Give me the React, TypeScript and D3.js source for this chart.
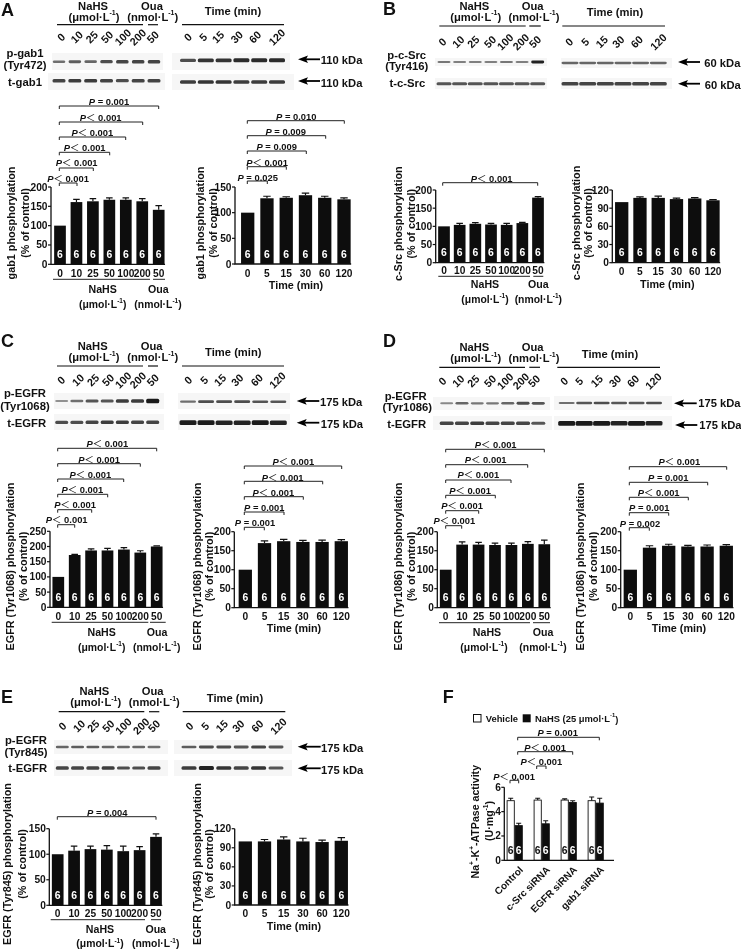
import React from "react";
import * as d3 from "d3";

// ---------- DATA ----------
const concLabels = ["0", "10", "25", "50", "100", "200", "50"];
const timeLabels = ["0", "5", "15", "30", "60", "120"];
const siLabels = ["Control", "c-Src siRNA", "EGFR siRNA", "gab1 siRNA"];

const aConc = [100, 161, 163, 167, 167, 163, 141];
const aConcErr = [0, 7, 7, 5, 5, 7, 11];
const aTime = [100, 128, 129, 134, 129, 126];
const aTimeErr = [0, 4, 2, 4, 3, 3];
const bConc = [100, 104, 107, 105, 104, 109, 179];
const bConcErr = [0, 4, 3, 3, 4, 2, 3];
const bTime = [100, 107, 107, 105, 106, 103];
const bTimeErr = [0, 1.5, 3, 1.5, 1.5, 1];
const cConc = [100, 172, 187, 187, 190, 180, 200];
const cConcErr = [0, 2, 5, 7, 6, 6, 2];
const cTime = [100, 170, 175, 173, 173, 175];
const cTimeErr = [0, 6, 5, 4, 5, 4];
const dConc = [100, 166, 166, 165, 165, 168, 167];
const dConcErr = [0, 7, 6, 5, 5, 6, 11];
const dTime = [100, 158, 163, 161, 161, 163];
const dTimeErr = [0, 5, 4, 3, 4, 3];
const eConc = [100, 107, 110, 109, 106, 108, 134];
const eConcErr = [0, 9, 6, 8, 10, 7, 6];
const eTime = [100, 100, 103, 100, 99, 101];
const eTimeErr = [0, 3, 4, 5, 3, 5];
const fVehicle = [4.9, 4.95, 4.95, 4.9];
const fVehicleErr = [0.2, 0.15, 0.1, 0.3];
const fNahs = [2.85, 3.0, 4.75, 4.7];
const fNahsErr = [0.2, 0.25, 0.15, 0.4];

const ticks200 = [0, 50, 100, 150, 200];
const ticks150 = [0, 50, 100, 150];
const ticks250 = [0, 50, 100, 150, 200, 250];
const ticks120 = [0, 30, 60, 90, 120];
const ticksF = [0, 2, 4, 6];

const aConcP = ["P = 0.001", "P< 0.001", "P< 0.001", "P< 0.001", "P< 0.001", "P< 0.001"];
const aTimeP = ["P = 0.010", "P = 0.009", "P = 0.009", "P< 0.001", "P = 0.025"];
const bConcP = ["P< 0.001"];
const cConcP = ["P< 0.001", "P< 0.001", "P< 0.001", "P< 0.001", "P< 0.001", "P< 0.001"];
const cTimeP = ["P< 0.001", "P< 0.001", "P< 0.001", "P = 0.001", "P = 0.001"];
const dConcP = ["P< 0.001", "P< 0.001", "P< 0.001", "P< 0.001", "P< 0.001", "P< 0.001"];
const dTimeP = ["P< 0.001", "P = 0.001", "P< 0.001", "P = 0.001", "P = 0.002"];
const eConcP = ["P = 0.004"];
const fP = ["P = 0.001", "P< 0.001", "P< 0.001", "P< 0.001"];

// band darkness estimates (0-1)
const aPL = [0.45, 0.55, 0.5, 0.65, 0.7, 0.7, 0.7];
const aTL = [0.7, 0.75, 0.75, 0.7, 0.65, 0.7, 0.7];
const aPR = [0.65, 0.8, 0.8, 0.85, 0.85, 0.85];
const aTR = [0.75, 0.8, 0.8, 0.75, 0.75, 0.75];
const bPL = [0.4, 0.35, 0.35, 0.35, 0.4, 0.35, 0.9];
const bTL = [0.6, 0.6, 0.6, 0.6, 0.6, 0.6, 0.6];
const bPR = [0.5, 0.5, 0.5, 0.5, 0.5, 0.5];
const bTR = [0.7, 0.7, 0.7, 0.7, 0.7, 0.7];
const cPL = [0.25, 0.45, 0.6, 0.6, 0.75, 0.75, 0.95];
const cTL = [0.65, 0.65, 0.7, 0.75, 0.75, 0.7, 0.7];
const cPR = [0.45, 0.65, 0.65, 0.65, 0.6, 0.6];
const cTR = [0.95, 0.95, 0.9, 0.9, 0.95, 0.9];
const dPL = [0.3, 0.5, 0.4, 0.4, 0.5, 0.65, 0.6];
const dTL = [0.7, 0.7, 0.75, 0.7, 0.7, 0.7, 0.6];
const dPR = [0.45, 0.6, 0.65, 0.6, 0.6, 0.65];
const dTR = [0.95, 0.95, 0.95, 0.9, 0.95, 0.9];
const ePL = [0.5, 0.55, 0.55, 0.5, 0.5, 0.5, 0.45];
const eTL = [0.7, 0.7, 0.7, 0.75, 0.65, 0.65, 0.7];
const ePR = [0.55, 0.65, 0.65, 0.6, 0.7, 0.6];
const eTR = [0.75, 0.9, 0.8, 0.7, 0.8, 0.6];

// ---------- HELPERS ----------
const FONT = "'Liberation Sans', Arial, sans-serif";
const INK = "#111";
const ids = (n: number) => d3.range(n).map(String);

const Txt = ({ x, y, children, size = 10, anchor = "middle", rotate, weight = "bold" }: any) => (
  <text
    x={x}
    y={y}
    fontSize={size}
    fontWeight={weight}
    textAnchor={anchor}
    dominantBaseline="central"
    fill={INK}
    transform={rotate != null ? `rotate(${rotate} ${x} ${y})` : undefined}
  >
    {children}
  </text>
);

const Sup = ({ t, size, after }: any) => (
  <>
    <tspan fontSize={size * 0.62} dy={-size * 0.36}>{t}</tspan>
    <tspan dy={size * 0.36}>{after}</tspan>
  </>
);

const Unit = ({ x, y, kind, size = 10.4 }: any) => (
  <Txt x={x} y={y} size={size}>
    {kind === "u" ? "(μmol·L" : "(nmol·L"}
    <Sup t="-1" size={size} after=")" />
  </Txt>
);

// significance: rows of [y, x0, x1, textX, textY]
const Sig = ({ labels, rows }: { labels: string[]; rows: number[][] }) => (
  <g>
    {rows.map((r, i) => {
      const [y, x0, x1, tx, ty] = r;
      const lab = labels[i];
      const less = lab.startsWith("P<");
      return (
        <g key={i}>
          <path d={`M${x0},${y + 3}V${y}H${x1}V${y + 3}`} fill="none" stroke="#222" strokeWidth={1} />
          <text x={tx} y={ty} fontSize={9.4} fontWeight="bold" textAnchor="middle" dominantBaseline="central" fill={INK}>
            <tspan fontStyle="italic">P</tspan>
            {less ? (
              <>
                <tspan fontFamily="'Noto Sans CJK SC'" fontWeight="normal">＜</tspan>
                <tspan> {lab.slice(3)}</tspan>
              </>
            ) : (
              <tspan>{lab.slice(1)}</tspan>
            )}
          </text>
        </g>
      );
    })}
  </g>
);

const BarChart = ({ ax, y0, yTop, max, ticks, c0, c1, w, vals, errs, tickY, right }: any) => {
  const y = d3.scaleLinear().domain([0, max]).range([y0, yTop]);
  const x = d3.scalePoint<string>().domain(ids(vals.length)).range([c0, c1]);
  const labels = vals.length === 7 ? concLabels : timeLabels;
  return (
    <g>
      {vals.map((v: number, i: number) => {
        const cx = x(String(i))!;
        return (
          <g key={i}>
            <rect x={cx - w / 2} y={y(v)} width={w} height={y0 - y(v)} fill="#0d0d0d" />
            {errs[i] > 0 && (
              <path
                d={`M${cx},${y(v)}V${y(v + errs[i])}M${cx - w * 0.28},${y(v + errs[i])}H${cx + w * 0.28}`}
                stroke="#111"
                strokeWidth={1.2}
                fill="none"
              />
            )}
            <text x={cx} y={y0 - 10} fontSize={10.4} fontWeight="bold" fill="#fff" textAnchor="middle" dominantBaseline="central">6</text>
            <Txt x={cx} y={tickY} size={10.2}>{labels[i]}</Txt>
          </g>
        );
      })}
      <path d={`M${ax},${yTop}V${y0}H${right ?? c1 + w / 2 + 0.5}`} fill="none" stroke="#111" strokeWidth={1.3} />
      {ticks.map((t: number) => (
        <g key={t}>
          <line x1={ax - 3} x2={ax} y1={y(t)} y2={y(t)} stroke="#111" strokeWidth={1.2} />
          <Txt x={ax - 3.5} y={y(t)} size={10.2} anchor="end">{t}</Txt>
        </g>
      ))}
    </g>
  );
};

const YTitle = ({ x1, x2, cy, title, size = 10.8 }: any) => (
  <g>
    <Txt x={x1} y={cy} size={size} rotate={-90}>{title}</Txt>
    <Txt x={x2} y={cy} size={size} rotate={-90}>(% of control)</Txt>
  </g>
);

const Blot = ({ bg, xs, dark, y, w, thick = 3.4, blur = "b" }: any) => {
  const x = d3.scalePoint<string>().domain(ids(dark.length)).range(xs);
  return (
    <g>
      <rect x={bg[0]} y={bg[1]} width={bg[2] - bg[0]} height={bg[3] - bg[1]} fill="#f6f6f6" />
      <g filter={`url(#${blur})`}>
        {dark.map((d: number, i: number) => {
          const h = 1 + thick * d;
          return (
            <rect
              key={i}
              x={x(String(i))! - w / 2}
              y={y - h / 2}
              width={w}
              height={h}
              rx={1.5}
              fill={d3.interpolateRgb("#bbbbbb", "#111111")(d)}
            />
          );
        })}
      </g>
    </g>
  );
};

const Arrow = ({ x1, x2, y, label, tx, ty }: any) => (
  <g>
    <path d={`M${x1},${y}H${x2 + 8}`} stroke="#000" strokeWidth={1.8} />
    <path d={`M${x2},${y}L${x2 + 10},${y - 3.8}L${x2 + 8},${y}L${x2 + 10},${y + 3.8}Z`} fill="#000" />
    <Txt x={tx} y={ty} size={11.2} anchor="start">{label}</Txt>
  </g>
);

const Rotated = ({ labels, xs, y }: any) => (
  <g>
    {labels.map((l: string, i: number) => (
      <Txt key={i} x={xs[i]} y={y} size={10.8} rotate={-45}>{l}</Txt>
    ))}
  </g>
);

const Heading = ({ n, u, o, ty, t, t2, l }: any) => (
  <g>
    <Txt x={n[0]} y={ty[0]} size={11.2}>NaHS</Txt>
    <Unit x={n[1]} y={ty[1]} kind="u" size={11.2} />
    <Txt x={o[0]} y={ty[0]} size={11.2}>Oua</Txt>
    <Unit x={o[1]} y={ty[1]} kind="n" size={11.2} />
    <Txt x={t} y={t2} size={11.2}>Time (min)</Txt>
    {[[u[0], u[1]], [u[2], u[3]], [u[4], u[5]]].map((p, i) => (
      <line key={i} x1={p[0]} x2={p[1]} y1={l} y2={l} stroke="#111" strokeWidth={1.2} />
    ))}
  </g>
);

const Foot = ({ l, n, o, y }: any) => (
  <g>
    <line x1={l[0]} x2={l[1]} y1={y[0]} y2={y[0]} stroke="#222" strokeWidth={1} />
    <line x1={l[2]} x2={l[3]} y1={y[0]} y2={y[0]} stroke="#222" strokeWidth={1} />
    <Txt x={n[0]} y={y[1]} size={10.6}>NaHS</Txt>
    <Unit x={n[1]} y={y[2]} kind="u" />
    <Txt x={o[0]} y={y[1]} size={10.6}>Oua</Txt>
    <Unit x={o[1]} y={y[2]} kind="n" />
  </g>
);

const FChart = () => {
  const ax = 504.3, y0 = 860.3, yTop = 787.3, w = 8;
  const y = d3.scaleLinear().domain([0, 6]).range([y0, yTop]);
  const x = d3.scalePoint<string>().domain(siLabels).range([514.7, 595.7]);
  return (
    <g>
      {siLabels.map((s, i) => {
        const c = x(s)!;
        const bar = (v: number, e: number, left: number, fill: string, num: string) => (
          <g>
            <path
              d={`M${left + w / 2},${y(v)}V${y(v + e)}M${left + 1.5},${y(v + e)}H${left + w - 1.5}`}
              stroke="#111"
              strokeWidth={1.1}
              fill="none"
            />
            <rect x={left + 0.4} y={y(v)} width={w - 0.8} height={y0 - y(v)} fill={fill} stroke="#111" strokeWidth={0.9} />
            <text x={left + w / 2} y={850.3} fontSize={10.4} fontWeight="bold" fill={num} textAnchor="middle" dominantBaseline="central">6</text>
          </g>
        );
        return (
          <g key={s}>
            {bar(fVehicle[i], fVehicleErr[i], c - w, "#fff", "#111")}
            {bar(fNahs[i], fNahsErr[i], c, "#0d0d0d", "#fff")}
            <Txt x={c + 6.5} y={868} size={10} anchor="end" rotate={-45}>{s}</Txt>
          </g>
        );
      })}
      <path d={`M${ax},${yTop}V${y0}H614`} fill="none" stroke="#111" strokeWidth={1.3} />
      {ticksF.map((t) => (
        <g key={t}>
          <line x1={ax - 3} x2={ax} y1={y(t)} y2={y(t)} stroke="#111" strokeWidth={1.2} />
          <Txt x={ax - 3.5} y={y(t)} size={10.2} anchor="end">{t}</Txt>
        </g>
      ))}
      <rect x={473.5} y={714.5} width={7.5} height={7.5} fill="#fff" stroke="#111" strokeWidth={1} />
      <Txt x={485.7} y={718.7} size={9.4} anchor="start">Vehicle</Txt>
      <rect x={522.7} y={714.3} width={8} height={8} fill="#0d0d0d" />
      <Txt x={535} y={718.7} size={9.4} anchor="start">
        NaHS (25 μmol·L<Sup t="-1" size={9.4} after=")" />
      </Txt>
      <Txt x={475} y={821.7} size={10.6} rotate={-90}>
        Na<Sup t="+" size={10.6} after="-K" /><Sup t="+" size={10.6} after="-ATPase activity" />
      </Txt>
      <Txt x={489} y={821} size={10.6} rotate={-90}>
        (U·mg<Sup t="-1" size={10.6} after=")" />
      </Txt>
    </g>
  );
};

const PanelLabel = ({ x, y, t }: any) => <Txt x={x} y={y} size={18} anchor="start">{t}</Txt>;

export default function App() {
  return (
    <svg
      width={741}
      height={949}
      viewBox="0 0 741 949"
      style={{ position: "absolute", left: 0, top: 0, background: "#fff" }}
      fontFamily={FONT}
    >
      <defs>
        <filter id="b" x="-20%" y="-150%" width="140%" height="400%" colorInterpolationFilters="sRGB">
          <feGaussianBlur stdDeviation="0.7 0.55" />
        </filter>
        <filter id="soft" filterUnits="userSpaceOnUse" x={0} y={0} width={741} height={949} colorInterpolationFilters="sRGB">
          <feGaussianBlur stdDeviation="0.4" />
        </filter>
      </defs>
      <g filter="url(#soft)">
        <rect width={741} height={949} fill="#fff" />

        {/* ---- A ---- */}
        <PanelLabel x={1} y={10} t="A" />
        <Heading n={[93, 94]} o={[152, 152.7]} ty={[5.5, 16.5]} t={233} t2={11} u={[57, 143, 148, 158, 182, 284]} l={24.7} />
        <Rotated labels={concLabels} xs={[61, 76.7, 91.7, 107, 122.7, 137.7, 152.7]} y={37} />
        <Rotated labels={timeLabels} xs={[187.7, 203, 218, 236.7, 255, 276.7]} y={37} />
        <Txt x={25} y={53} size={11.3}>p-gab1</Txt>
        <Txt x={25} y={65} size={11.3}>(Tyr472)</Txt>
        <Txt x={25} y={81.7} size={11.3}>t-gab1</Txt>
        <Blot bg={[52, 53, 163, 70]} xs={[59, 154]} dark={aPL} y={61.7} w={12.5} />
        <Blot bg={[172, 53, 290, 70]} xs={[188, 277]} dark={aPR} y={60.3} w={16} />
        <Blot bg={[48, 73, 165, 90]} xs={[59, 154]} dark={aTL} y={80.7} w={13} />
        <Blot bg={[172, 74, 294, 90]} xs={[188, 277]} dark={aTR} y={82} w={16} />
        <Arrow x1={320} x2={298} y={59.3} label="110 kDa" tx={320.7} ty={59.5} />
        <Arrow x1={320} x2={298} y={81} label="110 kDa" tx={320.7} ty={82.5} />
        <Sig labels={aConcP} rows={[
          [106, 59.3, 158.7, 109, 101],
          [122, 59.3, 142.7, 100.7, 116.7],
          [137, 59.3, 125.7, 92.3, 131.7],
          [152.3, 59.3, 109.7, 84.7, 147],
          [168, 59.3, 93.3, 76.7, 162.3],
          [183, 59.3, 77, 68, 177.7],
        ]} />
        <Sig labels={aTimeP} rows={[
          [120.7, 247.3, 344.3, 296.3, 115.7],
          [135.7, 247.3, 325.7, 285.7, 130.7],
          [151, 247.3, 306.3, 276.7, 146],
          [166.7, 247.3, 286.3, 267, 161.7],
          [181, 247.3, 267.3, 257.7, 176.7],
        ]} />
        <BarChart ax={51} y0={264.3} yTop={187} max={200} ticks={ticks200} c0={60} c1={158.7} w={11.7} vals={aConc} errs={aConcErr} tickY={273} />
        <BarChart ax={235} y0={264} yTop={187} max={150} ticks={ticks150} c0={247.7} c1={344} w={13.3} vals={aTime} errs={aTimeErr} tickY={273} />
        <YTitle x1={11.3} x2={25} cy={223} title="gab1 phosphorylation" />
        <YTitle x1={200} x2={213} cy={223} title="gab1 phosphorylation" />
        <Foot l={[53, 150, 153, 165]} n={[102.7, 102.7]} o={[158.3, 158]} y={[279.3, 288.7, 304]} />
        <Txt x={296} y={285} size={10.8}>Time (min)</Txt>

        {/* ---- B ---- */}
        <PanelLabel x={383} y={9} t="B" />
        <Heading n={[474.3, 475.7]} o={[532.7, 534]} ty={[5.5, 16.5]} t={615} t2={12.3} u={[439.3, 525.7, 529.3, 540.7, 562.3, 665]} l={26} />
        <Rotated labels={concLabels} xs={[442.3, 458.3, 473.3, 490, 505, 520.7, 535]} y={41.7} />
        <Rotated labels={timeLabels} xs={[569, 585, 601.7, 618.3, 636.7, 658.3]} y={41.7} />
        <Txt x={406.7} y={55} size={11.3}>p-c-Src</Txt>
        <Txt x={406.7} y={66} size={11.3}>(Tyr416)</Txt>
        <Txt x={407.3} y={83.3} size={11.3}>t-c-Src</Txt>
        <Blot bg={[435, 58, 547, 66]} xs={[444, 537.7]} dark={bPL} y={62} w={13} thick={2.2} />
        <Blot bg={[561, 58, 672, 68]} xs={[570, 658.3]} dark={bPR} y={63} w={17} thick={2.6} />
        <Blot bg={[435, 78, 547, 89]} xs={[444, 537.7]} dark={bTL} y={83.7} w={15} />
        <Blot bg={[561, 78, 672, 89]} xs={[570, 658.3]} dark={bTR} y={83.7} w={17} />
        <Arrow x1={700} x2={678} y={62} label="60 kDa" tx={704.3} ty={62.5} />
        <Arrow x1={700} x2={678} y={83.7} label="60 kDa" tx={704.7} ty={85} />
        <Sig labels={bConcP} rows={[[182.7, 442.7, 537.7, 491.7, 178.3]]} />
        <BarChart ax={435.7} y0={262.7} yTop={190} max={200} ticks={ticks200} c0={444} c1={538} w={11.7} vals={bConc} errs={bConcErr} tickY={270.7} />
        <BarChart ax={612.3} y0={262.7} yTop={190} max={120} ticks={ticks120} c0={621.7} c1={713} w={13.3} vals={bTime} errs={bTimeErr} tickY={271} />
        <YTitle x1={397.7} x2={410.7} cy={223.7} title="c-Src phosphorylation" />
        <YTitle x1={575.7} x2={588.3} cy={223} title="c-Src phosphorylation" />
        <Foot l={[438.3, 530, 533.3, 543.3]} n={[485, 485]} o={[538.3, 538.3]} y={[276.3, 284.3, 299]} />
        <Txt x={667.3} y={284.3} size={10.8}>Time (min)</Txt>

        {/* ---- C ---- */}
        <PanelLabel x={1} y={340.7} t="C" />
        <Heading n={[92.7, 94]} o={[151.7, 152.7]} ty={[346, 356.7]} t={233.3} t2={352.3} u={[57, 143, 148, 158, 182, 284]} l={366} />
        <Rotated labels={concLabels} xs={[61, 78, 93, 108, 123, 137.7, 152.7]} y={380} />
        <Rotated labels={timeLabels} xs={[188, 204, 220, 237.3, 256.7, 277.3]} y={380} />
        <Txt x={25} y={393.3} size={11.3}>p-EGFR</Txt>
        <Txt x={25} y={405.7} size={11.3}>(Tyr1068)</Txt>
        <Txt x={26.7} y={423.3} size={11.3}>t-EGFR</Txt>
        <Blot bg={[54, 393, 164, 409]} xs={[61.7, 152.7]} dark={cPL} y={401} w={13} thick={3.6} />
        <Blot bg={[178, 393, 290, 409]} xs={[188, 278.3]} dark={cPR} y={401.7} w={16} thick={2.6} />
        <Blot bg={[54, 414, 164, 430]} xs={[61.7, 152.7]} dark={cTL} y={422.3} w={13} />
        <Blot bg={[178, 414, 290, 430]} xs={[188, 278.3]} dark={cTR} y={422.7} w={17} thick={4} />
        <Arrow x1={319.3} x2={296.7} y={401} label="175 kDa" tx={320} ty={402} />
        <Arrow x1={319.3} x2={296.7} y={422.7} label="175 kDa" tx={320.7} ty={424} />
        <Sig labels={cConcP} rows={[
          [448.3, 57.7, 156.7, 107.3, 443.3],
          [463.7, 57.7, 140.3, 99, 458.7],
          [479, 57.7, 123.7, 90.3, 473.7],
          [494.3, 57.7, 107.7, 82.3, 489],
          [509.7, 57.7, 91.7, 75, 504.3],
          [524.7, 57.7, 74.7, 66.7, 519.3],
        ]} />
        <Sig labels={cTimeP} rows={[
          [466, 244.3, 341.7, 293.3, 461],
          [481.3, 244.3, 322.7, 282.7, 476.5],
          [496.7, 244.3, 303.3, 273.3, 491.7],
          [512, 244.3, 284, 264.3, 507],
          [527.3, 244.3, 264.3, 255, 522.3],
        ]} />
        <BarChart ax={50} y0={607.3} yTop={531.3} max={250} ticks={ticks250} c0={58.3} c1={156.7} w={11.7} vals={cConc} errs={cConcErr} tickY={616.3} />
        <BarChart ax={234.3} y0={607.7} yTop={531.7} max={200} ticks={ticks200} c0={245.3} c1={341.3} w={13.3} vals={cTime} errs={cTimeErr} tickY={616.3} />
        <YTitle x1={10} x2={22.7} cy={566.5} title="EGFR (Tyr1068) phosphorylation" />
        <YTitle x1={196.7} x2={209.3} cy={566.5} title="EGFR (Tyr1068) phosphorylation" />
        <Foot l={[51.7, 148.3, 150, 165.7]} n={[101.7, 101.7]} o={[157, 156.7]} y={[622.3, 632, 647]} />
        <Txt x={294} y={628.3} size={10.8}>Time (min)</Txt>

        {/* ---- D ---- */}
        <PanelLabel x={383} y={340.7} t="D" />
        <Heading n={[474.3, 475.7]} o={[532.7, 534]} ty={[346.7, 357.7]} t={610} t2={354} u={[439.3, 525, 529.3, 540, 557.3, 660]} l={367.3} />
        <Rotated labels={concLabels} xs={[442.3, 458.3, 473.3, 490, 505, 520.7, 534]} y={381} />
        <Rotated labels={timeLabels} xs={[564, 579, 596.7, 615, 633, 653.3]} y={381} />
        <Txt x={405.7} y={396} size={11.3}>p-EGFR</Txt>
        <Txt x={407.3} y={407.3} size={11.3}>(Tyr1086)</Txt>
        <Txt x={406.7} y={424.3} size={11.3}>t-EGFR</Txt>
        <Blot bg={[433, 397, 550, 410]} xs={[446.7, 538.3]} dark={dPL} y={403.3} w={13} thick={3} />
        <Blot bg={[554, 396, 672, 410]} xs={[566.7, 654]} dark={dPR} y={403} w={16} thick={2.6} />
        <Blot bg={[433, 416, 552, 430]} xs={[446.7, 538.3]} dark={dTL} y={423.3} w={14} />
        <Blot bg={[554, 416, 672, 430]} xs={[566.7, 654]} dark={dTR} y={423.3} w={17} thick={4} />
        <Arrow x1={696.7} x2={674} y={403.3} label="175 kDa" tx={698.3} ty={403.3} />
        <Arrow x1={697.3} x2={675} y={425} label="175 kDa" tx={699.3} ty={425} />
        <Sig labels={dConcP} rows={[
          [449.3, 445.7, 544.3, 495.7, 444],
          [464.7, 445.7, 527.7, 485.7, 459.3],
          [480, 445.7, 511, 478.3, 474.3],
          [495.3, 445.7, 495.3, 470, 490],
          [510.7, 445.7, 478.7, 462, 505],
          [525.7, 445.7, 461.7, 454.3, 520.3],
        ]} />
        <Sig labels={dTimeP} rows={[
          [466.7, 629.3, 726.7, 679.3, 461.3],
          [482.3, 629.3, 707.7, 668.3, 476.7],
          [497.3, 629.3, 688.3, 658.7, 492],
          [512.7, 629.3, 668.7, 649.3, 507],
          [527.7, 629.3, 649.3, 640, 522.7],
        ]} />
        <BarChart ax={437.3} y0={607.7} yTop={531.7} max={200} ticks={ticks200} c0={445.7} c1={544.3} w={11.7} vals={dConc} errs={dConcErr} tickY={616.3} />
        <BarChart ax={620.7} y0={607.7} yTop={531.7} max={200} ticks={ticks200} c0={630.3} c1={726.3} w={13.3} vals={dTime} errs={dTimeErr} tickY={616.3} />
        <YTitle x1={398.3} x2={410.7} cy={566.5} title="EGFR (Tyr1086) phosphorylation" />
        <YTitle x1={580} x2={593.3} cy={566.5} title="EGFR (Tyr1086) phosphorylation" />
        <Foot l={[439, 530, 533, 550]} n={[487, 484]} o={[543, 543]} y={[622.7, 632, 647]} />
        <Txt x={679} y={628.3} size={10.8}>Time (min)</Txt>

        {/* ---- E ---- */}
        <PanelLabel x={1} y={697.3} t="E" />
        <Heading n={[94.3, 95.7]} o={[152.7, 154.3]} ty={[691, 701.7]} t={235} t2={697.7} u={[58.7, 144.3, 149, 159.3, 182.7, 285.3]} l={711.7} />
        <Rotated labels={concLabels} xs={[62.3, 79, 93.3, 108.3, 123.3, 141, 154]} y={726} />
        <Rotated labels={timeLabels} xs={[189.3, 205, 221.7, 238.3, 257.3, 278.3]} y={726} />
        <Txt x={26} y={740} size={11.3}>p-EGFR</Txt>
        <Txt x={26} y={751.7} size={11.3}>(Tyr845)</Txt>
        <Txt x={27.7} y={768.3} size={11.3}>t-EGFR</Txt>
        <Blot bg={[54, 740, 168, 754]} xs={[62.3, 154]} dark={ePL} y={747} w={13} thick={3} />
        <Blot bg={[174, 740, 292, 754]} xs={[189, 276]} dark={ePR} y={747} w={15} thick={3} />
        <Blot bg={[54, 760, 168, 776]} xs={[62.3, 154]} dark={eTL} y={768} w={13} />
        <Blot bg={[174, 760, 292, 776]} xs={[189, 276]} dark={eTR} y={768} w={15} />
        <Arrow x1={320.7} x2={297.7} y={746.7} label="175 kDa" tx={321} ty={747.7} />
        <Arrow x1={320.7} x2={297.7} y={768.3} label="175 kDa" tx={321} ty={769.5} />
        <Sig labels={eConcP} rows={[[816.7, 57.3, 156, 107.3, 811.7]]} />
        <BarChart ax={49.3} y0={905.3} yTop={828.7} max={150} ticks={ticks150} c0={57.7} c1={156} w={11.7} vals={eConc} errs={eConcErr} tickY={913.7} />
        <BarChart ax={234.7} y0={905} yTop={828.7} max={120} ticks={ticks120} c0={245.3} c1={341.3} w={13.3} vals={eTime} errs={eTimeErr} tickY={913.7} />
        <YTitle x1={7.3} x2={21.7} cy={864} title="EGFR (Tyr845) phosphorylation" />
        <YTitle x1={196.7} x2={209.3} cy={864} title="EGFR (Tyr845) phosphorylation" />
        <Foot l={[50.7, 145, 151, 161]} n={[100, 100]} o={[155.7, 155.7]} y={[919.7, 928.7, 943.3]} />
        <Txt x={294} y={925.7} size={10.8}>Time (min)</Txt>

        {/* ---- F ---- */}
        <PanelLabel x={442.7} y={696.7} t="F" />
        <Sig labels={fP} rows={[
          [737.3, 517.7, 599.3, 557.7, 732.3],
          [751.7, 517.7, 572.7, 545, 746.7],
          [766, 536.7, 546, 541.3, 761.3],
          [780.3, 510, 518.7, 514, 775.7],
        ]} />
        <FChart />
      </g>
    </svg>
  );
}
